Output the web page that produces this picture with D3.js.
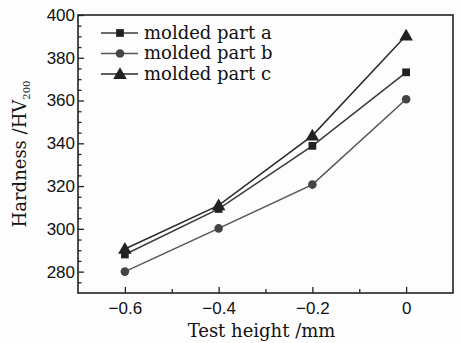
<!DOCTYPE html>
<html>
<head>
<meta charset="utf-8">
<script src="https://cdn.jsdelivr.net/npm/d3@7"></script>
<style>
  body { margin: 0; background: #fdfdfd; }
  svg { display: block; font-family: "DejaVu Serif", serif; }
  .tick text { font-size: 17px; fill: #111; }
  .axis path { display: none; }
  .axis line { stroke: #222; stroke-width: 1.3; }
</style>
</head>
<body>
<div id="svganchor"></div>
<script>
let width = 460, height = 343;
let margin = ({top: 15, right: 7, bottom: 50, left: 78});

let heights = [-0.6, -0.4, -0.2, 0];
let seriesNames = ["molded part a", "molded part b", "molded part c"];
let partA = [288, 309.3, 338.8, 373.2];
let partB = [280, 300.2, 320.7, 360.6];
let partC = [290.6, 311, 343.6, 390.4];
let xTicks = [-0.6, -0.4, -0.2, 0];
let yTicks = [280, 300, 320, 340, 360, 380, 400];

let lineColors = ["#3a3a3a", "#555", "#2a2a2a"];
let symbols = [d3.symbolSquare, d3.symbolCircle, d3.symbolTriangle];
let symbolSizes = [60, 58, 80];

let xScale = d3.scaleLinear().domain([-0.7, 0.1])
    .range([margin.left, width - margin.right]);
let yScale = d3.scaleLinear().domain([270, 400])
    .range([height - margin.bottom, margin.top]);

let svg = d3.select("#svganchor").append("svg")
    .attr("width", width).attr("height", height);

// minor ticks
let xMinor = d3.axisBottom(xScale).tickValues([-0.5, -0.3, -0.1]).tickSizeInner(-4).tickFormat("");
let yMinor = d3.axisLeft(yScale).tickValues(d3.range(275, 400, 5).filter(v => v % 20 !== 0)).tickSizeInner(-3.5).tickFormat("");

svg.append("g").attr("class", "x axis")
    .attr("transform", "translate(0," + (height - margin.bottom) + ")")
    .call(xMinor);
svg.append("g").attr("class", "y axis")
    .attr("transform", "translate(" + margin.left + ",0)")
    .call(yMinor);

let xAxis = d3.axisBottom(xScale).tickValues(xTicks).tickSizeInner(-6).tickPadding(9)
    .tickFormat(d => d === 0 ? "0" : d3.format(".1f")(d).replace("-", "\u2212"));
let yAxis = d3.axisLeft(yScale).tickValues(yTicks).tickSizeInner(-6).tickPadding(5)
    .tickFormat(d3.format("d"));

svg.append("g").attr("class", "x axis")
    .attr("transform", "translate(0," + (height - margin.bottom) + ")")
    .call(xAxis);
svg.append("g").attr("class", "y axis")
    .attr("transform", "translate(" + margin.left + ",0)")
    .call(yAxis);

svg.selectAll(".y.axis .tick text").attr("dx", 2);

// frame
svg.append("rect")
    .attr("x", margin.left).attr("y", margin.top)
    .attr("width", width - margin.left - margin.right)
    .attr("height", height - margin.top - margin.bottom)
    .attr("fill", "none").attr("stroke", "#222").attr("stroke-width", 1.6);

let allSeries = [partA, partB, partC];
let line = d3.line().x((d, i) => xScale(heights[i])).y(d => yScale(d));

allSeries.forEach(function(vals, k) {
    svg.append("path")
        .attr("d", line(vals))
        .attr("fill", "none")
        .attr("stroke", lineColors[k])
        .attr("stroke-width", 1.5);
    svg.selectAll(".pt" + k)
        .data(vals)
        .enter()
        .append("path")
        .attr("transform", (d, i) => "translate(" + xScale(heights[i]) + "," + (yScale(d) + (k === 2 ? 1 : 0)) + ")")
        .attr("d", d3.symbol().type(symbols[k]).size(symbolSizes[k]))
        .attr("fill", k === 1 ? "#444" : "#222");
});

// legend
let legend = svg.append("g");
seriesNames.forEach(function(name, k) {
    let ly = 33 + k * 20.5;
    legend.append("line")
        .attr("x1", 101).attr("x2", 138).attr("y1", ly).attr("y2", ly)
        .attr("stroke", lineColors[k]).attr("stroke-width", 1.5);
    legend.append("path")
        .attr("transform", "translate(120," + (ly + (k === 2 ? 1 : 0)) + ")")
        .attr("d", d3.symbol().type(symbols[k]).size(symbolSizes[k]))
        .attr("fill", k === 1 ? "#444" : "#222");
    legend.append("text")
        .attr("x", 144).attr("y", ly + 5.5)
        .attr("font-size", 18).attr("fill", "#111")
        .text(name);
});

// axis titles
svg.append("text")
    .attr("text-anchor", "middle")
    .attr("x", (margin.left + width - margin.right) / 2 - 4)
    .attr("y", 337)
    .attr("font-size", 18).attr("fill", "#111")
    .text("Test height /mm");

let yTitle = svg.append("text")
    .attr("text-anchor", "middle")
    .attr("transform", "translate(26," + ((margin.top + height - margin.bottom) / 2) + ") rotate(-90)")
    .attr("font-size", 18).attr("fill", "#111");
yTitle.append("tspan").text("Hardness /HV");
yTitle.append("tspan").attr("font-size", 10).attr("dy", 4).text("200");
</script>
</body>
</html>
